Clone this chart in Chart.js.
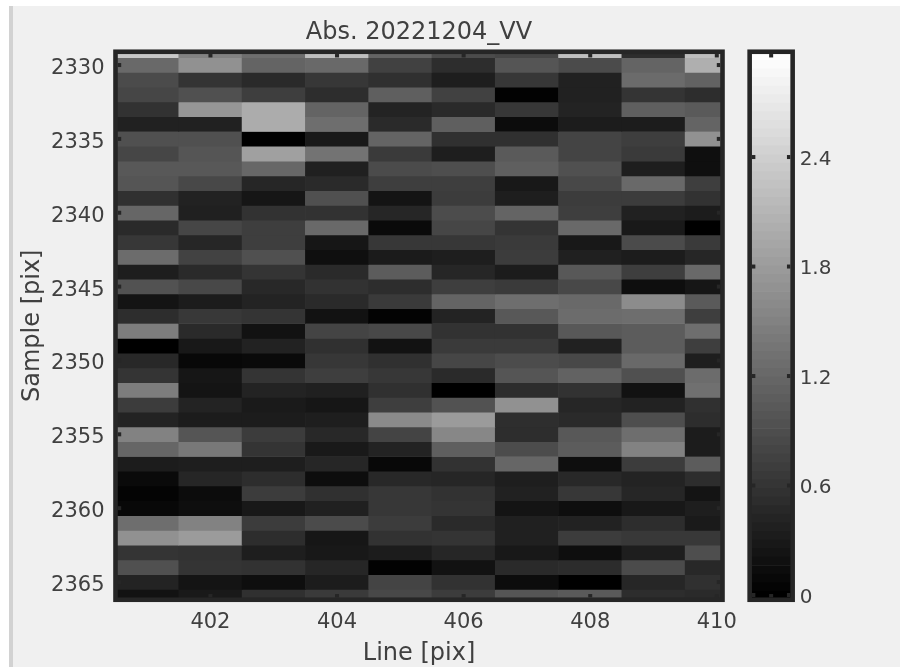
<!DOCTYPE html>
<html><head><meta charset="utf-8">
<style>
html,body{margin:0;padding:0;background:#fff;width:900px;height:667px;overflow:hidden}
#bg{position:absolute;left:13px;top:6px;width:887px;height:661px;background:#f0f0f0}
#stripe{position:absolute;left:9px;top:6px;width:4px;height:661px;background:#d2d2d2}
canvas{position:absolute;top:0;filter:blur(0.45px)}
#main{left:0}#bar{left:740px}
</style>
<script src="https://cdn.jsdelivr.net/npm/chart.js@4"></script>
</head><body>
<div id="bg"></div><div id="stripe"></div>
<canvas id="main" width="740" height="667"></canvas>
<canvas id="bar" width="160" height="667"></canvas>
<script>
const titleText = "Abs. 20221204_VV";
const xTitle = "Line [pix]";
const yTitle = "Sample [pix]";
const lines = [401,402,403,404,405,406,407,408,409,410];
const samples = [2329,2330,2331,2332,2333,2334,2335,2336,2337,2338,2339,2340,2341,2342,2343,2344,2345,2346,2347,2348,2349,2350,2351,2352,2353,2354,2355,2356,2357,2358,2359,2360,2361,2362,2363,2364,2365,2366];
const xTickValues = [402,404,406,408,410];
const yTickValues = [2330,2335,2340,2345,2350,2355,2360,2365];
const barTickValues = [0,0.6,1.2,1.8,2.4];
const absValues = [
[2.35,1.53,1.29,2.24,1.18,.88,.82,2.24,.53,2.24],
[1.24,1.71,1.18,1.24,.76,.53,1.00,.88,1.18,2.06],
[.88,.61,.49,.65,.56,.35,.65,.39,1.26,1.15],
[.82,.94,.73,.53,1.12,.76,.02,.39,.61,.53],
[.59,1.76,2.02,1.18,.41,.49,.65,.41,1.12,1.06],
[.39,.39,2.02,1.29,.49,1.12,.14,.33,.33,1.18],
[.94,.94,0,.29,1.18,.56,.56,.80,.73,1.71],
[.82,1.0,1.88,1.35,.68,.35,1.06,.8,.68,.18],
[1.04,1.04,1.21,.38,.88,.92,1.12,.94,.35,.18],
[1.0,.85,.45,.49,.73,.73,.28,.85,1.24,.73],
[.56,.4,.26,.94,.24,.71,.35,.71,.71,.59],
[1.2,.38,.59,.59,.45,.89,1.18,.73,.39,.33],
[.49,.82,.73,1.24,.12,.82,.61,1.24,.29,0],
[.65,.45,.73,.26,.65,.65,.68,.28,.88,.68],
[1.27,.78,.94,.18,.32,.35,.71,.38,.33,.45],
[.35,.49,.61,.49,1.08,.45,.33,1.04,.73,1.24],
[.96,.85,.47,.59,.53,.73,.68,.85,.16,.26],
[.24,.33,.41,.49,.68,1.18,1.29,1.24,1.65,1.06],
[.53,.66,.61,.21,.04,.41,1.04,1.27,1.29,.73],
[1.47,.49,.21,.8,.85,.59,.59,1.04,1.08,1.29],
[0,.28,.4,.56,.21,.68,.68,.39,1.08,.73],
[.47,.09,.12,.65,.56,.82,.89,.85,1.24,.35],
[.61,.26,.61,.73,.65,.49,1.0,1.15,.94,1.27],
[1.47,.24,.41,.38,.56,0,.53,.59,.21,1.32],
[.71,.41,.31,.26,.73,.96,1.71,.45,.4,.56],
[.41,.33,.33,.35,1.62,1.82,.54,.49,.92,.53],
[1.53,1.0,.71,.47,.8,1.59,.53,1.04,1.29,.33],
[1.2,1.41,.61,.29,.41,1.12,.89,1.08,1.53,.33],
[.33,.35,.35,.45,.09,.59,1.2,.16,.71,1.08],
[.12,.45,.53,.15,.47,.45,.35,.47,.41,.53],
[.05,.14,.71,.56,.65,.59,.39,.65,.45,.24],
[.09,.16,.28,.38,.65,.61,.24,.16,.28,.35],
[1.29,1.53,.71,.88,.71,.49,.38,.4,.53,.31],
[1.71,1.82,.53,.26,.59,.61,.38,.71,.66,.66],
[.61,.59,.35,.28,.33,.45,.28,.16,.35,.92],
[.94,.61,.59,.45,.02,.21,.49,.52,.88,.47],
[.41,.24,.16,.33,.8,.59,.14,0,.45,.56],
[.21,.29,.56,.68,.85,.71,1.0,1.06,.53,.49]
];
const barLevels = [0,4,8,12,16,20,24,28,32,36,40,45,49,53,57,61,65,69,73,77,81,85,89,93,97,101,105,109,113,117,121,125,130,134,138,142,146,150,154,158,162,166,170,174,178,182,186,190,194,198,202,206,210,215,219,223,227,231,235,239,243,247,251,255];
const barMin = -0.026, barMax = 2.977;

const FONT = 'DejaVu Sans', TXT = '#404040', LINE = '#262626';
const TICK_SIZE = 21, BAR_TICK_SIZE = 20, LABEL_SIZE = 24;
const grayOf = v => { const g = Math.max(0,Math.min(255,Math.round(v*85))); return `rgb(${g},${g},${g})`; };
const noPad = s => { s.paddingLeft = s.paddingRight = s.paddingTop = s.paddingBottom = 0; };

const framePlugin = {
  id: 'frame',
  afterDatasetsDraw(chart, args, opts) {
    const {ctx, chartArea: a, scales} = chart;
    const lw = 4.6, tl = 3.4, tw = 4;
    ctx.save();
    ctx.fillStyle = LINE; ctx.strokeStyle = LINE; ctx.lineWidth = lw;
    const xs = opts.centerTick ? [(a.left+a.right)/2] : scales.x.ticks.map(t => scales.x.getPixelForValue(t.value));
    xs.forEach(p => {
      if (p > a.right - lw) return;
      ctx.fillRect(p-tw/2, a.top+lw/2, tw, tl);
      ctx.fillRect(p-tw/2, a.bottom-lw/2-tl, tw, tl);
    });
    scales.y.ticks.forEach(t => {
      const p = scales.y.getPixelForValue(t.value);
      ctx.fillRect(a.left+lw/2, p-tw/2, tl, tw);
      ctx.fillRect(a.right-lw/2-tl, p-tw/2, tl, tw);
    });
    ctx.strokeRect(a.left, a.top, a.right-a.left, a.bottom-a.top);
    ctx.restore();
  }
};

const rowDatasets = samples.map((s,r) => ({
  data: lines.map(l => ({x:l, y:[s-0.5, s+0.5]})),
  backgroundColor: absValues[r].map(grayOf),
  borderWidth: 0, grouped: false, categoryPercentage: 1, barPercentage: 1
}));

new Chart(document.getElementById('main'), {
  type: 'bar',
  data: {datasets: rowDatasets},
  options: {
    responsive:false, animation:false, events:[],
    layout:{padding:{left:0,right:17.5,top:0,bottom:0}},
    plugins:{
      legend:{display:false}, tooltip:{enabled:false}, frame:{},
      title:{display:true,text:titleText,fullSize:false,color:TXT,
        font:{family:FONT,size:LABEL_SIZE,weight:'normal',lineHeight:1.2},padding:{top:18,bottom:4.95}}
    },
    scales:{
      x:{type:'linear',offset:false,min:400.5,max:410.09,
        grid:{display:false,drawTicks:false},border:{display:false},
        afterBuildTicks:s=>{s.ticks=xTickValues.map(v=>({value:v}));},
        afterFit:s=>{s.height=67.25;noPad(s);},
        ticks:{autoSkip:false,maxRotation:0,color:TXT,padding:10.6,font:{family:FONT,size:TICK_SIZE},callback:v=>String(v)},
        title:{display:true,text:xTitle,color:TXT,padding:{top:0,bottom:-1},font:{family:FONT,size:LABEL_SIZE}}
      },
      y:{type:'linear',reverse:true,min:2329.1,max:2366.2,
        grid:{display:false,drawTicks:false},border:{display:false},
        afterBuildTicks:s=>{s.ticks=yTickValues.map(v=>({value:v}));},
        afterFit:s=>{s.width=115.5;noPad(s);},
        ticks:{autoSkip:false,color:TXT,padding:11,labelOffset:3.5,font:{family:FONT,size:TICK_SIZE},callback:v=>String(v)},
        title:{display:true,text:yTitle,color:TXT,padding:{top:18,bottom:0},font:{family:FONT,size:LABEL_SIZE}}
      }
    }
  },
  plugins:[framePlugin]
});

const bandDatasets = barLevels.map((g,i) => {
  const step = (barMax-barMin)/barLevels.length;
  return {
    data:[[barMin+i*step, barMin+(i+1)*step]],
    backgroundColor:`rgb(${g},${g},${g})`,
    borderWidth:0, grouped:false, categoryPercentage:1, barPercentage:1
  };
});

new Chart(document.getElementById('bar'), {
  type:'bar',
  data:{labels:['cb'],datasets:bandDatasets},
  options:{
    responsive:false, animation:false, events:[],
    layout:{padding:{left:9.65,right:0,top:51.75,bottom:67.25}},
    plugins:{legend:{display:false},tooltip:{enabled:false},title:{display:false},frame:{centerTick:true}},
    scales:{
      x:{display:false},
      y:{type:'linear',position:'right',min:barMin,max:barMax,
        grid:{display:false,drawTicks:false},border:{display:false},
        afterBuildTicks:s=>{s.ticks=barTickValues.map(v=>({value:v}));},
        afterFit:s=>{s.width=107.35;noPad(s);},
        ticks:{autoSkip:false,color:TXT,padding:7,labelOffset:2.5,font:{family:FONT,size:BAR_TICK_SIZE},callback:v=>String(v)}
      }
    }
  },
  plugins:[framePlugin]
});
</script>
</body></html>
